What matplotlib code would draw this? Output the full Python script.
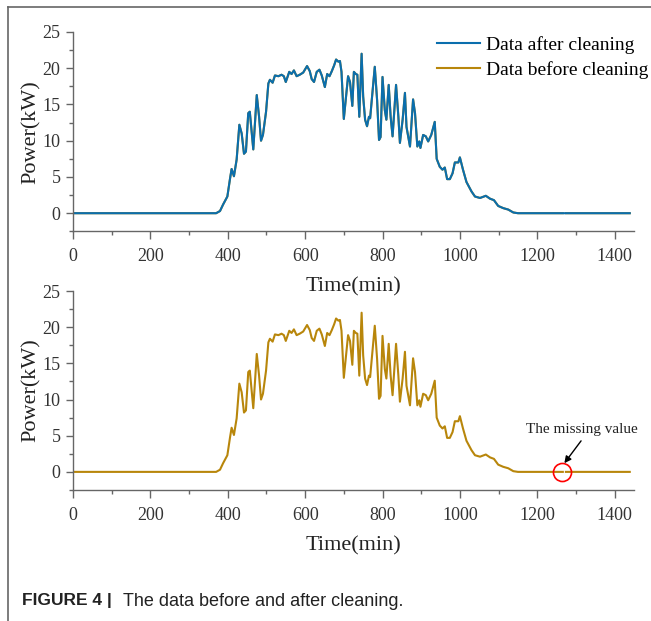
import numpy as np
import matplotlib.pyplot as plt
from matplotlib.lines import Line2D
from matplotlib.ticker import MultipleLocator

# Gunluk guc verisi (dakika, kW)
time_min = [0, 370, 380, 388, 399, 406, 410, 416, 423, 430, 436, 442, 447, 453, 457,
            466, 475, 481, 486, 491, 499, 505, 509, 516, 522, 531, 539, 545, 550, 559,
            565, 571, 578, 586, 595, 605, 612, 617, 623, 630, 637, 643, 651, 657, 663,
            669, 675, 680, 686, 690, 694, 700, 711, 716, 722, 726, 731, 735, 740, 746,
            750, 755, 760, 765, 768, 780, 786, 791, 795, 800, 806, 810, 816, 821, 826,
            835, 841, 845, 852, 858, 862, 871, 879, 884, 890, 895, 898, 905, 912, 918,
            926, 935, 940, 948, 955, 961, 967, 974, 981, 987, 996, 1000, 1008, 1017, 1030,
            1039, 1052, 1067, 1078, 1088, 1099, 1112, 1125, 1138, 1150, 1266, 1270, 1274, 1439]
power_after = [0, 0, 0.3, 1.2, 2.3, 4.8, 6.1, 5.1, 7.4, 12.2, 11.0, 8.2, 8.5, 13.8, 14.0,
               8.8, 16.3, 13.3, 10.0, 10.8, 14.0, 17.9, 18.4, 18.0, 19.0, 18.9, 19.1, 18.9, 18.1, 19.5,
               19.2, 19.7, 18.9, 19.1, 19.4, 20.3, 19.6, 18.5, 18.1, 19.5, 19.8, 19.0, 17.4, 19.2, 18.9,
               19.6, 20.4, 21.2, 20.9, 21.0, 19.5, 13.0, 18.9, 18.1, 14.8, 19.5, 19.2, 19.1, 13.3, 22.0,
               16.1, 12.9, 12.0, 13.3, 13.1, 20.2, 15.6, 10.1, 10.5, 18.8, 14.2, 12.9, 17.7, 13.3, 10.6,
               17.7, 13.3, 9.7, 12.9, 16.6, 11.9, 9.2, 15.7, 13.8, 9.2, 9.9, 9.0, 10.8, 10.6, 9.9,
               10.8, 12.6, 7.5, 6.4, 6.0, 6.3, 4.7, 4.7, 5.5, 7.0, 7.0, 7.7, 6.0, 4.3, 3.0,
               2.3, 2.1, 2.4, 2.0, 1.8, 1.0, 0.7, 0.5, 0.1, 0, 0, 0, 0, 0]
# temizleme oncesi: 1270. dakikadaki deger eksik
power_before = list(power_after)
power_before[time_min.index(1270)] = np.nan

missing_t = 1263

blue = '#0A6EAD'
gold = '#B8860B'

plt.rcParams['font.family'] = ['Liberation Serif', 'DejaVu Serif']

fig = plt.figure(figsize=(6.51, 6.21), dpi=100)
ax1 = fig.add_axes([0.1121, 0.6275, 0.8618, 0.3210])
ax2 = fig.add_axes([0.1121, 0.2110, 0.8618, 0.3204])
ax2.patch.set_visible(False)

ax1.plot(time_min, power_before, color=gold, lw=1.5, label='Data before cleaning')
ax1.plot(time_min, power_after, color=blue, lw=1.5, label='Data after cleaning')
ax2.plot(time_min, power_before, color=gold, lw=1.5)

for ax in (ax1, ax2):
    ax.set_xlim(0, 1450)
    ax.set_ylim(-2.5, 25)
    ax.xaxis.set_major_locator(MultipleLocator(200))
    ax.xaxis.set_minor_locator(MultipleLocator(100))
    ax.yaxis.set_major_locator(MultipleLocator(5))
    ax.yaxis.set_minor_locator(MultipleLocator(2.5))
    ax.spines['top'].set_visible(False)
    ax.spines['right'].set_visible(False)
    for s in ('left', 'bottom'):
        ax.spines[s].set_color('#666666')
        ax.spines[s].set_linewidth(1.0)
    ax.tick_params(which='major', direction='out', length=5, width=1, color='#666666',
                   labelsize=13, labelcolor='#333333', pad=4)
    ax.tick_params(axis='x', which='major', length=6, pad=6)
    ax.tick_params(which='minor', direction='out', length=3, width=1, color='#666666')
    ax.set_xlabel('Time(min)', fontsize=16, color='#222222', labelpad=9)
    ax.set_ylabel('Power(kW)', fontsize=16, color='#222222', labelpad=1)

handles, labels = ax1.get_legend_handles_labels()
fig.legend(handles[::-1], labels[::-1], loc='upper left', bbox_to_anchor=(0.672, 0.942),
           frameon=False, fontsize=14, handlelength=2.2, handletextpad=0.3,
           labelspacing=0.35, borderpad=0, borderaxespad=0)

# eksik deger isareti
ax2.plot([missing_t], [0], marker='o', ms=13, mfc='none', mec='red', mew=1.2, ls='none')
ax2.annotate('The missing value', xy=(1270, 1.2), xytext=(1316, 5.8),
             ha='center', va='center', fontsize=11, color='#222222',
             arrowprops=dict(arrowstyle='-|>', color='black', lw=1, shrinkA=1.5, shrinkB=0,
                             relpos=(0.52, 0), mutation_scale=10))

# cerceve
fig.add_artist(Line2D([8/651, 8/651], [0, 1 - 7/621], color='#666666', lw=1.2))
fig.add_artist(Line2D([8/651, 1], [1 - 7/621, 1 - 7/621], color='#666666', lw=1.2))

fig.text(22/651, 1 - 601/621, 'FIGURE 4 |', fontsize=12.5, fontweight='bold',
         family=['Liberation Sans', 'DejaVu Sans'], va='center', color='#222222')
fig.text(123/651, 1 - 601/621, 'The data before and after cleaning.', fontsize=13,
         family=['Liberation Sans', 'DejaVu Sans'], va='center', color='#222222')

plt.savefig('out.png', dpi=100)
plt.close()
